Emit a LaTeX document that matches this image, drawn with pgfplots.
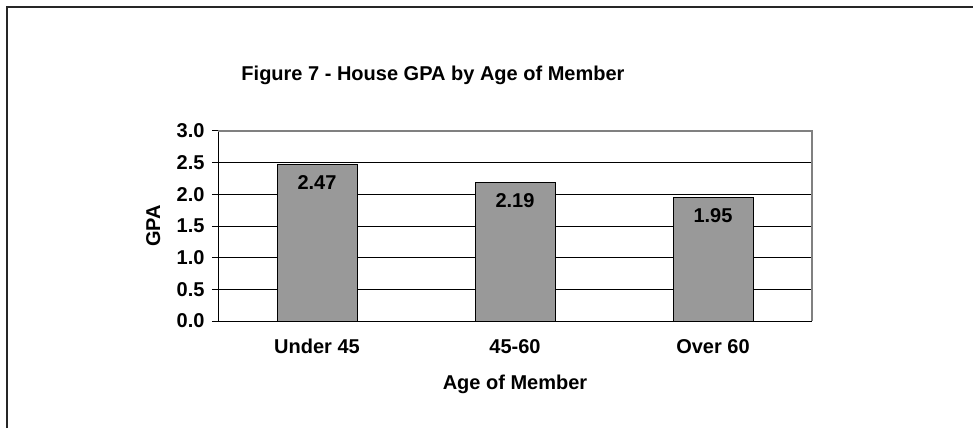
\documentclass[border=0pt]{standalone}
\usepackage{pgfplots}
\pgfplotsset{compat=1.18}
\usepackage{fontspec}
\setmainfont{Liberation Sans}
\definecolor{barfill}{RGB}{153,153,153}
\definecolor{frameline}{RGB}{128,128,128}
\begin{document}
\begin{tikzpicture}
% page = 973 x 428 pt, axis lower left corner at pixel (218,321)
\path[use as bounding box] (-218pt,-107pt) rectangle (755pt,321pt);
\draw[line width=1.4pt, black!85] (-211pt,-107pt) -- (-211pt,314pt) -- (755pt,314pt);
\node[font=\bfseries\fontsize{20}{24}\selectfont] at (215pt,246pt) {Figure 7 - House GPA by Age of Member};
\begin{axis}[
    at={(0pt,0pt)}, anchor=south west,
    scale only axis,
    width=594pt, height=190pt,
    xmin=-0.5, xmax=2.5,
    ymin=0, ymax=3,
    axis x line*=bottom, axis y line*=left,
    axis line style={black, line width=1pt, -},
    ytick={0,0.5,...,3},
    yticklabel style={xshift=-4pt, /pgf/number format/fixed, /pgf/number format/fixed zerofill, /pgf/number format/precision=1},
    /pgf/number format/assume math mode=true,
    ymajorgrids,
    grid style={black, line width=0.9pt},
    ytick style={black, line width=1pt},
    tick align=outside,
    major tick length=6pt,
    xtick={0,1,2},
    xticklabels={Under 45,45-60,Over 60},
    xtick style={draw=none},
    extra x ticks={-0.5,0.5,1.5,2.5},
    extra x tick labels={},
    extra x tick style={grid=none, major tick length=7pt, tick style={black, line width=1pt, draw=black}},
    xticklabel style={anchor=base, yshift=-26pt},
    tick label style={font=\bfseries\fontsize{20}{24}\selectfont},
    xlabel={Age of Member},
    ylabel={GPA},
    xlabel style={font=\bfseries\fontsize{20}{24}\selectfont, at={(axis description cs:0.5,-0.335)}, anchor=center},
    ylabel style={font=\bfseries\fontsize{20}{24}\selectfont, at={(axis description cs:-0.109,0.5)}, anchor=center},
    ybar, bar width=80pt,
    nodes near coords,
    nodes near coords style={font=\bfseries\fontsize{20}{24}\selectfont, anchor=north, yshift=-7pt, /pgf/number format/fixed, /pgf/number format/precision=2},
    clip=false,
    after end axis/.code={
        \draw[frameline, line width=1.4pt] (rel axis cs:0,1) -- (rel axis cs:1,1) -- (rel axis cs:1,0);
    },
]
\addplot[fill=barfill, draw=black, line width=1pt] coordinates {
    (0, 2.47)
    (1, 2.19)
    (2, 1.95)
};
\end{axis}
\end{tikzpicture}
\end{document}
